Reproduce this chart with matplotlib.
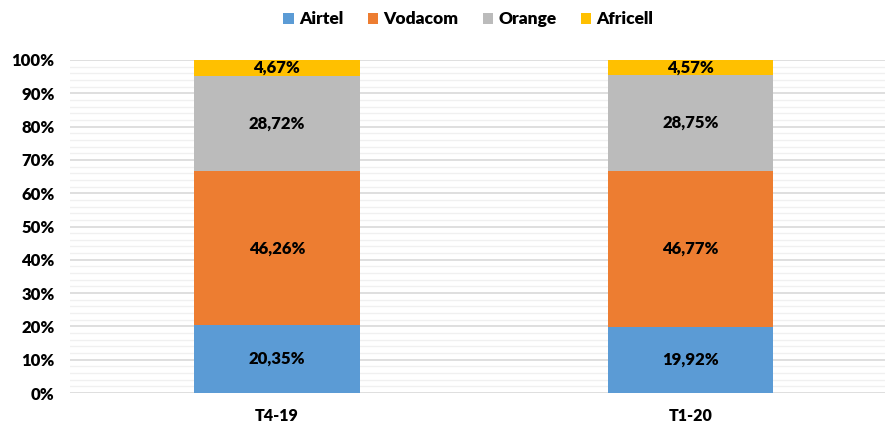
import matplotlib.pyplot as plt
import numpy as np

# data
periods = ["T4-19", "T1-20"]
operators = ["Airtel", "Vodacom", "Orange", "Africell"]
airtel = [20.35, 19.92]
vodacom = [46.26, 46.77]
orange = [28.72, 28.75]
africell = [4.67, 4.57]
colors = ["#5B9BD5", "#ED7D31", "#BBBBBB", "#FFC000"]

plt.rcParams['font.family'] = ['Lato', 'DejaVu Sans']
plt.rcParams['font.weight'] = 'heavy'

fig = plt.figure(figsize=(8.87, 4.25), dpi=100)
ax = fig.add_axes([70 / 887, 32 / 425, 815 / 887, 333 / 425])

x = np.arange(len(periods))
bottom = np.zeros(len(periods))
for name, vals, col in zip(operators, [airtel, vodacom, orange, africell], colors):
    vals = np.array(vals)
    ax.bar(x, vals, 0.4, bottom=bottom, color=col, label=name, zorder=3)
    for xi, b, v in zip(x, bottom, vals):
        ax.text(xi, b + v / 2, f"{v:.2f}%".replace(".", ","), ha="center", va="center",
                fontsize=12, fontweight="heavy", color="black", zorder=4)
    bottom += vals

ax.set_ylim(0, 100)
ax.set_xlim(-0.5, 1.47)
ax.set_yticks(np.arange(0, 101, 10))
ax.set_yticklabels([f"{t}%" for t in range(0, 101, 10)], fontsize=12, fontweight="heavy")
ax.set_yticks(np.arange(0, 101, 2), minor=True)
ax.set_xticks(x)
ax.set_xticklabels(periods, fontsize=11.5, fontweight="heavy")
ax.tick_params(axis="both", length=0, which="both")
ax.tick_params(axis="y", pad=11)
ax.tick_params(axis="x", pad=11)
ax.grid(axis="y", which="major", color="#D9D9D9", linewidth=1.2, zorder=0)
ax.grid(axis="y", which="minor", color="#F0F0F0", linewidth=1.0, zorder=0)
for s in ax.spines.values():
    s.set_visible(False)

fig.legend(loc="upper center", bbox_to_anchor=(0.528, 1.01), ncol=4, frameon=False,
           prop={'size': 12.5, 'weight': 'heavy'}, handlelength=0.6, handleheight=0.6,
           handletextpad=0.3, columnspacing=1.4)

fig.savefig("out.png", dpi=100)
